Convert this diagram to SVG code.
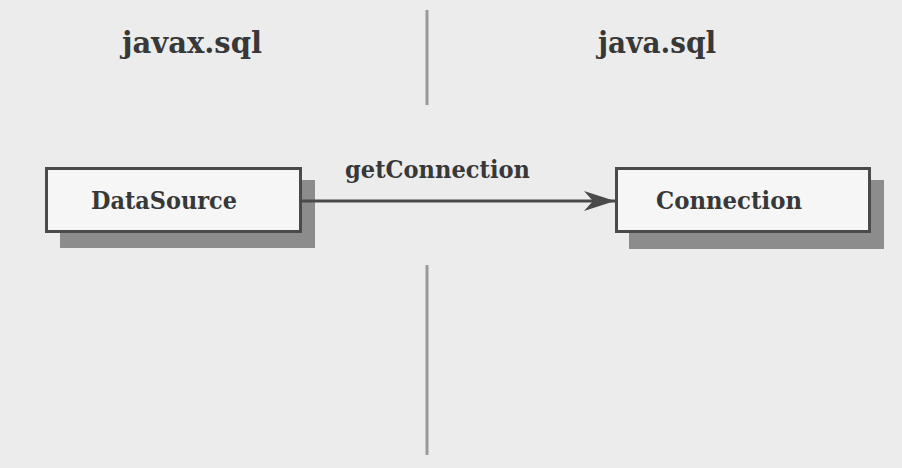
<svg xmlns="http://www.w3.org/2000/svg" width="902" height="468" viewBox="0 0 902 468">
  <style>
    .bg { fill: #ececec; }
    .txt { font-family: "DejaVu Serif", "Liberation Serif", serif; font-weight: bold; fill: #383838; }
    .title { font-size: 30px; }
    .label { font-size: 24px; }
    .box { fill: #f6f6f6; stroke: #4a4a4a; stroke-width: 3; }
    .shadow { fill: #8c8c8c; }
    .divider { stroke: #9a9a9a; stroke-width: 3; fill: none; }
    .conn { stroke: #4a4a4a; stroke-width: 3; fill: none; }
  </style>
  <defs>
    <marker id="arrow" markerUnits="userSpaceOnUse" markerWidth="34" markerHeight="24" refX="32" refY="12" orient="auto">
      <path d="M32,12 L1,2 L10,12 L1,22 Z" fill="#4a4a4a"/>
    </marker>
  </defs>
  <rect class="bg" x="0" y="0" width="902" height="468"/>

  <g id="divider">
    <line class="divider" x1="427" y1="10" x2="427" y2="105"/>
    <line class="divider" x1="427" y1="265" x2="427" y2="455"/>
  </g>

  <g id="title-javax">
    <text class="txt title" x="122" y="53" textLength="140" lengthAdjust="spacingAndGlyphs">javax.sql</text>
  </g>
  <g id="title-java">
    <text class="txt title" x="598" y="53" textLength="118" lengthAdjust="spacingAndGlyphs">java.sql</text>
  </g>

  <g id="datasource">
    <rect class="shadow" x="60" y="180" width="255" height="68"/>
    <rect class="box" x="46.5" y="168.5" width="254" height="63"/>
    <text class="txt label" x="91" y="209" textLength="146" lengthAdjust="spacingAndGlyphs">DataSource</text>
  </g>

  <g id="connection">
    <rect class="shadow" x="629" y="180" width="255" height="69"/>
    <rect class="box" x="616.5" y="168.5" width="253" height="63"/>
    <text class="txt label" x="656" y="209" textLength="146" lengthAdjust="spacingAndGlyphs">Connection</text>
  </g>

  <g id="connectors">
    <line class="conn" x1="302" y1="201" x2="615" y2="201" marker-end="url(#arrow)"/>
    <text class="txt label" x="345" y="178" textLength="185" lengthAdjust="spacingAndGlyphs">getConnection</text>
  </g>
</svg>
